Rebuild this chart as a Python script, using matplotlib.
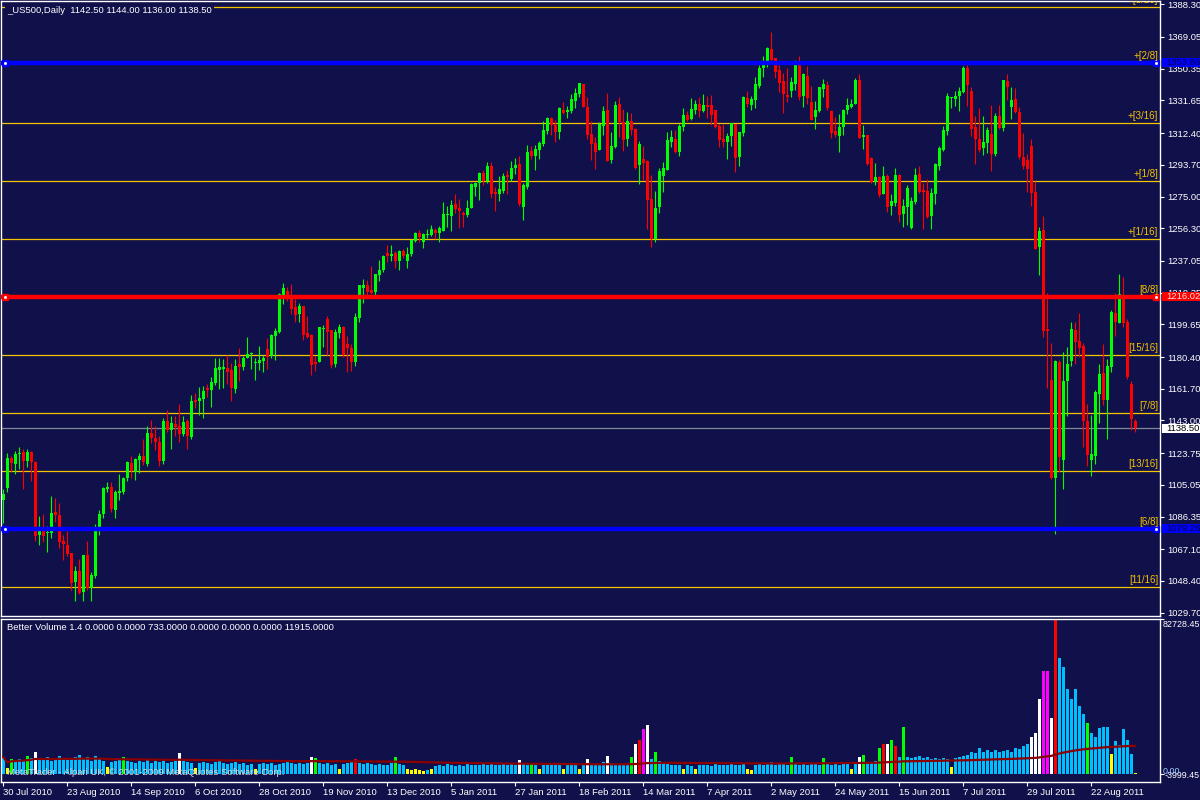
import numpy as np
import pandas as pd
import matplotlib
matplotlib.use("Agg")
import matplotlib.pyplot as plt
import matplotlib.transforms as mtransforms
from matplotlib.patches import Rectangle

# ---- data (US500 daily, 30 Jul 2010 .. 26 Aug 2011) ----
opens = [
    1095.9, 1103.4, 1121.1, 1117.6, 1123.1, 1124.3, 1119.1, 1124.3, 1118.4, 1075.3,
    1077.7, 1076.7, 1076.7, 1088.9, 1087.1, 1071.8, 1069.4, 1064.7, 1047.8, 1054.1,
    1041.9, 1063.5, 1044.2, 1051.3, 1079.2, 1088.1, 1102.4, 1103.6, 1090.2, 1100.3,
    1100.7, 1108.9, 1117.8, 1112.7, 1119.7, 1122.3, 1117.4, 1135.5, 1132.7, 1130.5,
    1118.9, 1142.9, 1137.6, 1141.2, 1139.6, 1135.1, 1142.5, 1133.3, 1155.1, 1154.5,
    1155.5, 1161.6, 1161.0, 1165.1, 1172.8, 1173.2, 1173.8, 1172.6, 1161.6, 1176.2,
    1174.6, 1179.9, 1181.9, 1176.6, 1176.7, 1177.9, 1185.0, 1180.9, 1192.9, 1195.2,
    1216.7, 1219.2, 1216.6, 1209.7, 1205.8, 1210.7, 1194.8, 1193.2, 1177.3, 1177.3,
    1196.7, 1202.6, 1196.5, 1176.1, 1194.4, 1198.1, 1188.3, 1185.7, 1177.3, 1203.4,
    1220.9, 1222.7, 1220.1, 1218.6, 1228.6, 1231.5, 1241.6, 1240.2, 1241.6, 1236.8,
    1242.7, 1236.8, 1241.0, 1248.8, 1253.4, 1248.3, 1252.4, 1252.4, 1255.3, 1253.4,
    1254.5, 1264.2, 1263.6, 1270.5, 1268.5, 1265.0, 1264.2, 1268.3, 1280.9, 1283.0,
    1288.6, 1284.0, 1292.9, 1277.7, 1276.6, 1278.3, 1287.6, 1285.6, 1291.7, 1294.1,
    1268.9, 1280.5, 1301.7, 1298.8, 1302.3, 1305.9, 1313.5, 1321.2, 1317.1, 1312.9,
    1325.9, 1324.7, 1325.3, 1331.4, 1335.4, 1341.3, 1327.7, 1311.8, 1306.5, 1302.3,
    1316.5, 1325.9, 1296.4, 1304.1, 1329.5, 1318.8, 1308.8, 1319.4, 1314.7, 1293.5,
    1297.0, 1295.8, 1273.4, 1249.8, 1268.7, 1287.0, 1290.5, 1307.0, 1308.8, 1301.1,
    1315.9, 1323.0, 1320.6, 1325.9, 1329.5, 1325.3, 1328.9, 1328.9, 1325.9, 1316.5,
    1308.8, 1307.0, 1310.6, 1317.7, 1298.2, 1312.4, 1333.0, 1328.9, 1331.8, 1340.1,
    1350.7, 1353.6, 1361.9, 1356.6, 1349.5, 1343.0, 1334.8, 1337.1, 1341.3, 1353.6,
    1334.2, 1346.0, 1330.6, 1321.8, 1325.3, 1338.3, 1340.7, 1325.3, 1313.5, 1310.6,
    1315.9, 1325.9, 1327.7, 1329.5, 1343.6, 1310.0, 1311.2, 1297.7, 1283.5, 1286.4,
    1276.4, 1287.0, 1269.3, 1271.1, 1287.6, 1264.6, 1268.8, 1256.4, 1271.7, 1288.2,
    1278.8, 1278.2, 1263.4, 1276.4, 1292.9, 1302.4, 1313.6, 1332.8, 1332.4, 1334.2,
    1336.6, 1350.7, 1337.2, 1315.9, 1308.9, 1303.5, 1306.5, 1311.8, 1300.0, 1322.4,
    1315.3, 1343.1, 1327.7, 1332.4, 1324.8, 1298.2, 1296.5, 1304.7, 1277.6, 1245.2,
    1255.2, 1196.8, 1166.7, 1108.9, 1177.3, 1119.5, 1166.1, 1177.9, 1196.2, 1189.7,
    1186.8, 1142.5, 1119.5, 1121.9, 1158.5, 1170.8, 1154.9, 1174.4, 1206.2, 1200.3,
    1216.8, 1200.9, 1164.4, 1142.5,
]
highs = [
    1102.8, 1123.7, 1121.9, 1125.2, 1127.2, 1126.0, 1126.0, 1124.8, 1118.9, 1086.9,
    1088.1, 1080.6, 1098.3, 1097.5, 1094.2, 1075.3, 1077.7, 1064.7, 1057.0, 1061.3,
    1063.5, 1071.8, 1053.5, 1081.8, 1090.0, 1103.8, 1106.6, 1106.6, 1102.2, 1111.3,
    1109.7, 1118.9, 1122.1, 1121.1, 1123.7, 1132.1, 1139.6, 1143.1, 1139.6, 1133.9,
    1144.5, 1149.0, 1145.5, 1145.5, 1152.6, 1145.5, 1143.7, 1157.9, 1159.4, 1162.6,
    1163.4, 1164.4, 1168.5, 1180.1, 1180.1, 1179.3, 1181.7, 1177.1, 1179.3, 1185.6,
    1181.1, 1192.1, 1183.4, 1179.7, 1186.8, 1181.5, 1191.9, 1193.7, 1197.4, 1218.2,
    1223.9, 1221.6, 1223.7, 1214.4, 1212.5, 1210.7, 1204.8, 1193.8, 1181.2, 1197.9,
    1199.1, 1204.8, 1196.5, 1196.7, 1199.7, 1198.5, 1192.6, 1187.9, 1206.6, 1222.7,
    1226.2, 1225.6, 1233.9, 1229.2, 1237.4, 1240.4, 1246.3, 1246.3, 1243.1, 1243.3,
    1243.9, 1245.1, 1250.2, 1254.1, 1255.1, 1253.4, 1255.7, 1258.1, 1256.7, 1257.7,
    1271.6, 1269.3, 1272.8, 1276.4, 1273.4, 1266.7, 1272.8, 1283.2, 1283.8, 1289.3,
    1290.7, 1295.2, 1295.2, 1280.7, 1287.0, 1288.9, 1290.5, 1295.8, 1297.6, 1298.8,
    1282.9, 1305.3, 1304.7, 1305.3, 1307.6, 1319.4, 1321.8, 1321.8, 1320.0, 1327.7,
    1330.6, 1328.3, 1335.3, 1338.9, 1341.8, 1341.3, 1333.6, 1319.4, 1310.0, 1318.8,
    1328.3, 1335.9, 1312.9, 1331.2, 1333.6, 1326.5, 1324.7, 1324.1, 1315.3, 1307.6,
    1304.7, 1296.4, 1287.6, 1278.1, 1291.7, 1295.2, 1312.9, 1314.1, 1314.1, 1317.7,
    1327.1, 1325.3, 1333.0, 1331.8, 1333.6, 1335.4, 1334.2, 1334.8, 1325.9, 1317.7,
    1317.7, 1312.4, 1318.2, 1317.7, 1312.9, 1334.2, 1337.1, 1334.2, 1345.4, 1352.5,
    1357.8, 1363.1, 1371.9, 1356.6, 1352.5, 1347.7, 1350.7, 1345.4, 1355.4, 1357.8,
    1347.7, 1351.9, 1340.1, 1331.2, 1339.5, 1344.2, 1343.0, 1325.9, 1321.8, 1323.6,
    1326.5, 1333.0, 1332.4, 1344.8, 1347.1, 1317.1, 1311.2, 1298.2, 1294.7, 1287.0,
    1292.9, 1288.2, 1276.4, 1291.8, 1288.2, 1273.5, 1281.7, 1274.6, 1291.8, 1292.9,
    1282.9, 1285.3, 1280.0, 1294.7, 1304.7, 1316.5, 1336.0, 1333.8, 1337.2, 1339.5,
    1351.9, 1352.5, 1339.5, 1322.4, 1327.1, 1322.4, 1315.9, 1328.9, 1324.2, 1328.9,
    1343.7, 1347.2, 1339.5, 1338.9, 1327.7, 1312.4, 1300.0, 1308.9, 1284.1, 1257.0,
    1263.4, 1218.0, 1188.5, 1178.5, 1178.5, 1183.2, 1186.2, 1200.9, 1200.9, 1206.2,
    1188.5, 1152.6, 1146.1, 1160.8, 1176.2, 1187.9, 1179.1, 1208.0, 1218.0, 1229.2,
    1227.5, 1202.7, 1166.1, 1144.0,
]
lows = [
    1082.6, 1100.9, 1112.7, 1111.5, 1114.2, 1102.6, 1115.6, 1107.3, 1072.2, 1069.4,
    1071.4, 1065.5, 1073.7, 1083.2, 1067.8, 1061.0, 1063.1, 1043.3, 1036.6, 1040.9,
    1036.6, 1042.9, 1036.6, 1050.3, 1075.5, 1085.5, 1101.1, 1089.1, 1085.5, 1095.9,
    1099.5, 1107.3, 1109.3, 1107.7, 1111.9, 1116.6, 1116.0, 1129.6, 1125.4, 1116.0,
    1117.6, 1136.2, 1126.2, 1133.7, 1130.4, 1133.9, 1126.2, 1131.9, 1150.4, 1146.3,
    1144.5, 1156.7, 1151.0, 1163.8, 1161.6, 1162.4, 1164.4, 1154.5, 1159.3, 1166.3,
    1172.8, 1179.9, 1173.4, 1166.9, 1172.8, 1171.6, 1173.4, 1180.1, 1178.9, 1194.6,
    1211.7, 1213.5, 1205.8, 1201.1, 1201.1, 1190.3, 1191.4, 1169.6, 1172.0, 1177.3,
    1186.1, 1181.8, 1173.9, 1174.3, 1191.4, 1180.6, 1171.6, 1172.0, 1175.3, 1200.9,
    1212.3, 1216.2, 1217.8, 1216.2, 1225.1, 1230.8, 1236.5, 1237.0, 1232.9, 1231.5,
    1239.0, 1232.9, 1239.8, 1248.3, 1248.3, 1244.7, 1250.4, 1252.0, 1250.2, 1248.3,
    1254.5, 1256.9, 1254.5, 1265.4, 1256.5, 1256.9, 1262.8, 1268.3, 1275.2, 1272.8,
    1281.9, 1282.9, 1274.2, 1266.3, 1272.2, 1276.8, 1276.4, 1284.4, 1288.2, 1269.7,
    1261.0, 1279.7, 1297.2, 1290.5, 1297.0, 1304.7, 1311.8, 1311.2, 1307.0, 1308.8,
    1323.4, 1321.2, 1324.5, 1327.3, 1333.8, 1327.7, 1308.8, 1296.4, 1291.1, 1302.3,
    1311.2, 1295.8, 1294.7, 1303.5, 1310.0, 1301.7, 1304.7, 1311.2, 1291.1, 1282.3,
    1284.6, 1255.7, 1245.1, 1248.1, 1265.2, 1277.6, 1290.5, 1304.1, 1300.6, 1298.8,
    1313.5, 1319.4, 1320.0, 1323.6, 1321.8, 1324.7, 1321.2, 1317.1, 1315.3, 1304.1,
    1304.1, 1297.0, 1304.7, 1289.3, 1292.9, 1310.6, 1327.7, 1325.9, 1327.1, 1338.9,
    1345.4, 1351.3, 1353.6, 1344.8, 1336.5, 1324.1, 1330.6, 1333.6, 1337.7, 1331.8,
    1327.7, 1329.5, 1320.0, 1314.7, 1324.7, 1333.6, 1325.9, 1309.4, 1310.0, 1301.1,
    1311.2, 1323.6, 1327.1, 1329.5, 1309.4, 1302.9, 1293.5, 1282.9, 1281.7, 1274.6,
    1276.4, 1265.8, 1264.0, 1269.3, 1259.9, 1257.0, 1258.1, 1255.8, 1270.5, 1277.0,
    1255.8, 1262.3, 1255.8, 1270.5, 1290.6, 1301.8, 1311.2, 1326.9, 1328.3, 1325.4,
    1336.0, 1328.3, 1310.6, 1294.1, 1301.2, 1299.4, 1300.6, 1290.0, 1298.8, 1314.8,
    1313.6, 1331.9, 1320.7, 1324.2, 1297.1, 1291.2, 1277.6, 1269.3, 1244.0, 1228.6,
    1192.1, 1162.0, 1108.3, 1075.9, 1112.5, 1102.4, 1145.5, 1175.0, 1176.2, 1180.3,
    1127.2, 1116.0, 1110.1, 1117.2, 1141.4, 1152.0, 1131.9, 1171.4, 1192.7, 1200.3,
    1198.0, 1167.3, 1137.2, 1136.0,
]
closes = [
    1099.5, 1121.1, 1118.0, 1123.5, 1123.9, 1119.1, 1124.3, 1118.6, 1075.1, 1077.7,
    1074.9, 1077.3, 1088.3, 1087.1, 1071.4, 1070.2, 1064.3, 1047.4, 1054.1, 1041.3,
    1063.5, 1044.2, 1051.7, 1079.8, 1088.1, 1103.0, 1103.6, 1090.6, 1100.9, 1101.3,
    1108.9, 1118.4, 1113.1, 1120.1, 1122.3, 1118.4, 1135.5, 1132.7, 1130.5, 1118.9,
    1142.5, 1137.6, 1141.8, 1139.0, 1135.1, 1142.0, 1133.9, 1154.3, 1153.9, 1156.1,
    1160.2, 1161.2, 1165.5, 1173.8, 1174.4, 1174.4, 1171.4, 1162.2, 1175.0, 1174.6,
    1180.1, 1182.1, 1182.6, 1177.3, 1178.7, 1179.9, 1180.5, 1193.3, 1195.6, 1217.6,
    1221.0, 1216.9, 1208.7, 1205.4, 1210.3, 1193.2, 1192.0, 1175.5, 1176.3, 1197.9,
    1197.5, 1195.2, 1175.5, 1195.0, 1197.9, 1181.4, 1185.5, 1177.3, 1203.8, 1222.7,
    1222.7, 1218.6, 1218.4, 1229.2, 1231.5, 1240.0, 1240.0, 1241.0, 1236.8, 1242.7,
    1240.2, 1241.0, 1249.4, 1253.8, 1251.4, 1253.0, 1253.0, 1255.7, 1253.4, 1256.3,
    1264.6, 1264.8, 1270.3, 1267.5, 1266.5, 1264.4, 1268.5, 1282.1, 1283.2, 1288.8,
    1284.0, 1292.9, 1276.4, 1276.6, 1279.3, 1287.0, 1286.4, 1291.7, 1293.5, 1270.5,
    1281.7, 1301.1, 1298.8, 1302.9, 1306.4, 1314.1, 1321.2, 1316.9, 1312.9, 1327.1,
    1324.1, 1325.9, 1332.4, 1335.9, 1341.8, 1327.7, 1311.2, 1305.9, 1301.1, 1317.7,
    1325.3, 1295.8, 1304.7, 1328.9, 1318.8, 1308.2, 1319.4, 1314.1, 1291.7, 1305.9,
    1294.7, 1272.8, 1249.8, 1268.1, 1289.9, 1291.7, 1308.2, 1310.0, 1301.1, 1316.5,
    1323.0, 1320.0, 1326.5, 1329.5, 1325.3, 1328.9, 1327.7, 1323.0, 1315.9, 1308.2,
    1307.0, 1310.6, 1318.2, 1297.6, 1312.9, 1333.6, 1329.5, 1332.4, 1341.3, 1350.7,
    1353.0, 1362.5, 1355.4, 1348.3, 1341.8, 1335.4, 1333.6, 1342.4, 1354.2, 1333.6,
    1347.1, 1333.0, 1320.0, 1325.9, 1339.5, 1341.3, 1327.1, 1312.4, 1311.2, 1315.9,
    1325.9, 1328.9, 1329.5, 1343.6, 1309.4, 1311.2, 1294.1, 1283.5, 1286.4, 1275.8,
    1287.0, 1268.8, 1272.3, 1287.6, 1264.0, 1269.3, 1280.0, 1272.3, 1287.6, 1277.6,
    1277.6, 1262.9, 1277.0, 1294.1, 1303.5, 1314.2, 1334.2, 1333.4, 1334.2, 1337.2,
    1350.7, 1340.7, 1314.8, 1308.9, 1302.4, 1307.1, 1314.2, 1300.0, 1322.4, 1315.3,
    1343.7, 1339.5, 1331.9, 1324.8, 1298.2, 1292.9, 1291.2, 1277.0, 1244.0, 1254.6,
    1195.6, 1195.6, 1108.9, 1177.9, 1121.3, 1166.1, 1176.1, 1196.8, 1189.1, 1185.6,
    1142.5, 1122.5, 1123.1, 1159.6, 1170.3, 1154.9, 1175.0, 1206.8, 1200.9, 1217.4,
    1200.3, 1168.5, 1143.7, 1138.5,
]

volume = [
    9000, 3500, 8000, 7500, 8000, 7000, 9500, 8500, 12000, 7500,
    8000, 9000, 7000, 8500, 9500, 8000, 7500, 8000, 9000, 10000,
    8500, 9000, 7000, 9500, 8000, 7000, 4000, 6500, 7000, 7500,
    9000, 7000, 6500, 6000, 7000, 6500, 7500, 6000, 7000, 6500,
    7000, 6000, 6500, 7500, 11000, 7000, 6500, 6000, 3500, 6000,
    6500, 6000, 5500, 6500, 7000, 6000, 5500, 6000, 6500, 5500,
    6000, 5000, 5500, 3000, 5500, 6000, 5500, 6000, 5000, 5500,
    6000, 6500, 6000, 5500, 6000, 5500, 6000, 9000, 8500, 6000,
    5500, 6000, 5000, 5500, 3000, 5500, 6000, 6500, 8000, 6000,
    5500, 6000, 5500, 5000, 5500, 5000, 5000, 6000, 9000, 5500,
    5000, 2500, 2000, 2500, 2000, 1500, 2000, 2500, 4500, 5000,
    4500, 5500, 5000, 4500, 5000, 4500, 5500, 5000, 4800, 5000,
    5500, 5000, 5200, 4800, 5000, 5500, 5000, 5300, 5000, 7500,
    5500, 5000, 6000, 5000, 3000, 5000, 5500, 5200, 5000, 4800,
    3000, 5000, 5200, 5000, 3000, 5500, 8000, 5000, 5300, 5000,
    6500, 9500, 6000, 5000, 5500, 5000, 4800, 9000, 16000, 18000,
    24000, 26000, 8000, 12000, 7000, 6000, 5500, 5000, 4800, 5000,
    2500, 5000, 4500, 2500, 5000, 4800, 5000, 4500, 5200, 5000,
    4800, 5000, 5500, 5000, 4800, 5200, 2500, 2000, 5000, 5500,
    5000, 5200, 6500, 5000, 5500, 5200, 5000, 9000, 5500, 5000,
    5300, 5000, 5500, 5200, 5000, 8500, 5500, 5000, 5300, 5000,
    5500, 5200, 3000, 5500, 9000, 10000, 6000, 6500, 7000, 14000,
    16000, 16000, 18000, 15000, 9000, 25000, 9000, 8500, 9000, 9500,
    8500, 9000, 8000, 8500, 8000, 8500, 8000, 4000, 8500, 9000,
    9500, 10000, 12000, 11000, 14000, 12000, 13000, 12000, 13000, 12000,
    12500, 13000, 12000, 14000, 13500, 15000, 16000, 20000, 22000, 40000,
    55000, 55000, 30000, 82000, 62000, 57000, 45000, 40000, 45000, 36000,
    32000, 27000, 22000, 20000, 24600, 25300, 25300, 10600, 17800, 15600,
    24200, 18300, 10800, 500,
]

# Better Volume bar classes
yellow_bars = [1, 26, 48, 63, 84, 101, 102, 103, 104, 105, 107, 134, 140, 144,
               170, 173, 186, 187, 212, 237, 277, 283]
green_bars = [2, 6, 30, 78, 98, 132, 157, 163, 197, 205, 215, 219, 222, 225, 271]
white_bars = [8, 44, 77, 129, 146, 151, 158, 161, 214, 221, 257, 258, 259, 262]
red_bars = [88, 159, 220, 223, 263]
magenta_bars = [160, 260, 261]

date_labels = ["30 Jul 2010", "23 Aug 2010", "14 Sep 2010", "6 Oct 2010",
               "28 Oct 2010", "19 Nov 2010", "13 Dec 2010", "5 Jan 2011",
               "27 Jan 2011", "18 Feb 2011", "14 Mar 2011", "7 Apr 2011",
               "2 May 2011", "24 May 2011", "15 Jun 2011", "7 Jul 2011",
               "29 Jul 2011", "22 Aug 2011"]

price_ticks = [1388.30, 1369.05, 1350.35, 1331.65, 1312.40, 1293.70, 1275.00,
               1256.30, 1237.05, 1218.35, 1199.65, 1180.40, 1161.70, 1143.00,
               1123.75, 1105.05, 1086.35, 1067.10, 1048.40, 1029.70]

murrey_levels = [1386.97, 1353.86, 1318.59, 1284.40, 1250.21, 1216.02,
                 1181.83, 1147.64, 1113.45, 1079.26, 1045.07]
murrey_names = ["+[5/16]", "+[2/8]", "+[3/16]", "+[1/8]", "+[1/16]", "[8/8]",
                "[15/16]", "[7/8]", "[13/16]", "[6/8]", "[11/16]"]
blue_levels = [1353.86, 1079.26]
red_level = 1216.02
bid = 1138.50

# ---- style ----
BG = "#10104a"
UP = "#00ff00"
DOWN = "#ff0000"
GOLD = "#f5c400"
plt.rcParams["font.family"] = ["Liberation Sans", "DejaVu Sans"]
FS = 6.8

n = len(closes)
xs = np.arange(n)
o = np.array(opens); h = np.array(highs); l = np.array(lows); c = np.array(closes)
cols = np.where(c >= o, UP, DOWN)

fig = plt.figure(figsize=(12, 8), dpi=100, facecolor=BG)
ax = fig.add_axes([1 / 1200, 1 - 616 / 800, 1159 / 1200, 615 / 800])
axv = fig.add_axes([1 / 1200, 1 - 781.7 / 800, 1159 / 1200, 163.2 / 800])

for a in (ax, axv):
    a.set_facecolor(BG)
    for s in a.spines.values():
        s.set_color("white")
        s.set_linewidth(1.0)
    a.set_xlim(-0.575, 289.2)

ax.set_ylim(1027.76, 1390.25)

# level lines
for lv in murrey_levels:
    if lv in blue_levels:
        continue
    ax.axhline(lv, color=GOLD, lw=0.9, zorder=1)
ax.axhline(bid, color="#7f8a99", lw=0.9, zorder=1)

# candles
ax.vlines(xs, l, h, colors=cols, lw=0.8, zorder=2)
body_lo = np.minimum(o, c)
body_h = np.maximum(np.abs(c - o), 0.7)
ax.bar(xs, body_h, bottom=body_lo, width=0.72, color=cols, edgecolor="none", zorder=2.1)

for lv in blue_levels:
    ax.axhline(lv, color="#0000ff", lw=3.2, zorder=3)
ax.axhline(red_level, color="#ff0000", lw=3.2, zorder=3)
for lv, colr in [(blue_levels[0], "#0000ff"), (red_level, "#ff0000"), (blue_levels[1], "#0000ff")]:
    ax.plot([0.4, 288.3], [lv, lv], "s", ms=5, color=colr, zorder=4, clip_on=False)
    ax.plot([0.4, 288.3], [lv, lv], "s", ms=1, color="white", zorder=5, clip_on=False)

# level labels
for lv, name in zip(murrey_levels, murrey_names):
    ax.annotate(name, xy=(0.9983, lv), xycoords=("axes fraction", "data"),
                xytext=(0, 1.2), textcoords="offset points", ha="right", va="bottom",
                color=GOLD, fontsize=7, zorder=6, annotation_clip=False, clip_on=True)

# price axis
ax.set_xticks([])
ax.yaxis.tick_right()
ax.set_yticks(price_ticks)
ax.set_yticklabels([f"{p:.2f}" for p in price_ticks])
ax.tick_params(axis="y", colors="white", direction="out", length=3, width=0.8,
               pad=2, labelsize=FS)

# coloured price boxes on the scale
trans = mtransforms.blended_transform_factory(ax.transAxes, ax.transData)
for lv, bg, fg in [(blue_levels[0], "#0000ff", "#000040"), (red_level, "#ff0000", "#ffe0e0"),
                   (blue_levels[1], "#0000ff", "#000040"), (bid, "#ffffff", "#000000")]:
    ax.add_patch(Rectangle((1.0017, lv - 2.6), 0.034, 5.2, transform=trans,
                           facecolor=bg, edgecolor="none", clip_on=False, zorder=7))
    ax.text(1.0052, lv, f"{lv:.2f}", transform=trans, color=fg, fontsize=FS,
            va="center", ha="left", zorder=8, clip_on=False)

ax.text(6 / 1159, 1 - 9.5 / 615, "_US500,Daily  1142.50 1144.00 1136.00 1138.50",
        transform=ax.transAxes, color="white", fontsize=FS, va="center", ha="left",
        zorder=9, bbox=dict(facecolor=BG, edgecolor="none", pad=1.5))

# volume panel
vcol = np.array(["#00bfff"] * n, dtype=object)
for idx, colr in [(yellow_bars, "#ffff00"), (green_bars, "#00ff00"), (white_bars, "#ffffff"),
                  (red_bars, "#ff0000"), (magenta_bars, "#ff00ff")]:
    vcol[idx] = colr
axv.set_ylim(-3999.45, 82728.45)
axv.bar(xs, volume, width=0.65, color=list(vcol), edgecolor="none", zorder=2)
vol_ma = pd.Series(volume, dtype=float).rolling(100, min_periods=1).mean()
axv.plot(xs, vol_ma, color="#8b0000", lw=1.6, zorder=3)

axv.yaxis.tick_right()
axv.set_yticks([82728.45, 0])
axv.set_yticklabels([])
axv.tick_params(axis="y", colors="white", direction="out", length=3, width=0.8)
axv.set_xticks(xs[::16])
axv.set_xticklabels(date_labels)
axv.tick_params(axis="x", colors="white", direction="out", length=3, width=0.8,
                pad=1.5, labelsize=FS)
for lbl in axv.get_xticklabels():
    lbl.set_ha("left")

axv.text(6 / 1159, 1 - 9 / 163.2,
         "Better Volume 1.4 0.0000 0.0000 733.0000 0.0000 0.0000 0.0000 11915.0000",
         transform=axv.transAxes, color="white", fontsize=FS, va="center", ha="left")
axv.text(6 / 1159, 1 - 154 / 163.2,
         "MetaTrader - Alpari UK, \u00a9 2001-2009 MetaQuotes Software Corp.",
         transform=axv.transAxes, color="#d8d8d8", fontsize=FS, va="center", ha="left",
         zorder=5)

fig.text(1163 / 1200, 1 - 624.5 / 800, "82728.45", color="white", fontsize=6.4,
         va="center", ha="left")
fig.text(1165 / 1200, 1 - 775.5 / 800, "-3999.45", color="white", fontsize=6.4,
         va="center", ha="left")
fig.text(1163 / 1200, 1 - 772 / 800, "0.00", color="#a0d0ff", fontsize=6.4,
         va="center", ha="left")

fig.savefig("out.png", dpi=100, facecolor=BG)
